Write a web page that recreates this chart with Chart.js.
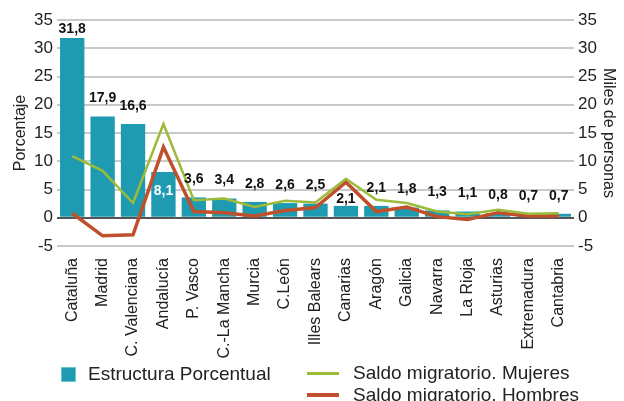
<!DOCTYPE html>
<html>
<head>
<meta charset="utf-8">
<script src="https://cdn.jsdelivr.net/npm/chart.js@4/dist/chart.umd.min.js"></script>
<style>
  body { margin: 0; background: #fff; font-family: "Liberation Sans", Arial, sans-serif; }
  #wrap { position: relative; width: 624px; height: 401px; overflow: hidden; }
  .lg { position: absolute; font-size: 19px; color: #222; white-space: nowrap; line-height: 20px; }
  .sw { position: absolute; }
</style>
</head>
<body>
<div id="wrap">
  <canvas id="chart" width="624" height="401"></canvas>
  <div class="sw" style="left:61px;top:367px;width:15px;height:15px;background:#1e9bb0;border:1px solid #6cc3d1;box-sizing:border-box"></div>
  <div class="lg" style="left:88px;top:364px">Estructura Porcentual</div>
  <div class="sw" style="left:307px;top:372px;width:32px;height:3px;background:#9dbb3a"></div>
  <div class="lg" style="left:353px;top:363px">Saldo migratorio. Mujeres</div>
  <div class="sw" style="left:307px;top:393px;width:32px;height:4px;background:#c0502b"></div>
  <div class="lg" style="left:353px;top:385px">Saldo migratorio. Hombres</div>
</div>
<script>
const categories = ['Cataluña', 'Madrid', 'C. Valenciana', 'Andalucía', 'P. Vasco', 'C.-La Mancha',
  'Murcia', 'C.León', 'Illes Balears', 'Canarias', 'Aragón', 'Galicia', 'Navarra', 'La Rioja',
  'Asturias', 'Extremadura', 'Cantabria'];
const estructura = [31.8, 17.9, 16.6, 8.1, 3.6, 3.4, 2.8, 2.6, 2.5, 2.1, 2.1, 1.8, 1.3, 1.1, 0.8, 0.7, 0.7];
const saldoMujeres = [10.9, 8.3, 2.6, 16.6, 3.1, 3.4, 1.9, 3.0, 2.7, 6.9, 3.2, 2.6, 1.1, 0.6, 1.4, 0.7, 0.8];
const saldoHombres = [0.8, -3.2, -3.0, 12.5, 1.1, 0.9, 0.3, 1.3, 1.8, 6.3, 1.1, 1.9, 0.2, -0.3, 0.9, 0.3, 0.3];
const yTicks = [-5, 0, 5, 10, 15, 20, 25, 30, 35];

const fmt = v => v.toFixed(1).replace('.', ',');

// value labels above the bars (Andalucía inside, Canarias tucked under the lines)
const barLabels = {
  id: 'barLabels',
  afterDatasetsDraw(chart) {
    const ctx = chart.ctx;
    const meta = chart.getDatasetMeta(0);
    ctx.save();
    ctx.font = 'bold 14px "Liberation Sans", Arial, sans-serif';
    ctx.textAlign = 'center';
    ctx.textBaseline = 'middle';
    meta.data.forEach((bar, i) => {
      let y = Math.max(bar.y - 18, chart.chartArea.top + 9);
      ctx.fillStyle = '#111';
      if (i === 3) { y = bar.y + 19; ctx.fillStyle = '#fff'; }
      if (i === 9) { y = bar.y - 7; }
      ctx.fillText(fmt(estructura[i]), bar.x, y);
    });
    ctx.restore();
  }
};

const tickFont = { family: '"Liberation Sans", Arial, sans-serif', size: 16 };

new Chart(document.getElementById('chart').getContext('2d'), {
  data: {
    labels: categories,
    datasets: [
      { type: 'bar', label: 'Estructura Porcentual', data: estructura, backgroundColor: '#1e9bb0',
        barPercentage: 0.8, categoryPercentage: 1, yAxisID: 'y', order: 3 },
      { type: 'line', label: 'Saldo migratorio. Hombres', data: saldoHombres, borderColor: '#c0502b',
        borderWidth: 3.5, pointRadius: 0, tension: 0, yAxisID: 'y2', order: 2 },
      { type: 'line', label: 'Saldo migratorio. Mujeres', data: saldoMujeres, borderColor: '#9dbb3a',
        borderWidth: 2.5, pointRadius: 0, tension: 0, yAxisID: 'y2', order: 1 }
    ]
  },
  options: {
    responsive: false,
    animation: false,
    layout: { padding: { top: 20, bottom: 41, left: 0, right: 0 } },
    plugins: { legend: { display: false }, tooltip: { enabled: false } },
    scales: {
      x: {
        grid: { display: false },
        border: { display: false },
        ticks: { color: '#222', font: tickFont, maxRotation: 90, minRotation: 90, autoSkip: false, padding: 4 },
        afterFit: s => { s.height = 114; }
      },
      y: {
        position: 'left', min: -5, max: 35,
        afterBuildTicks: s => { s.ticks = yTicks.map(v => ({ value: v })); },
        grid: { color: c => c.tick && c.tick.value === 0 ? '#555' : '#c9c9c9', lineWidth: 2, drawTicks: false },
        border: { display: false },
        ticks: { color: '#222', font: { family: tickFont.family, size: 17 }, padding: 4 },
        title: { display: true, text: 'Porcentaje', color: '#222', font: tickFont, padding: { top: 11, bottom: 0 } },
        afterFit: s => { s.width = 57; }
      },
      y2: {
        position: 'right', min: -5, max: 35,
        afterBuildTicks: s => { s.ticks = yTicks.map(v => ({ value: v })); },
        grid: { drawOnChartArea: false, drawTicks: false },
        border: { display: false },
        ticks: { color: '#222', font: { family: tickFont.family, size: 17 }, padding: 4 },
        title: { display: true, text: 'Miles de personas', color: '#222', font: tickFont, padding: { top: 6, bottom: 0 } },
        afterFit: s => { s.width = 50; }
      }
    }
  },
  plugins: [barLabels]
});
</script>
</body>
</html>
